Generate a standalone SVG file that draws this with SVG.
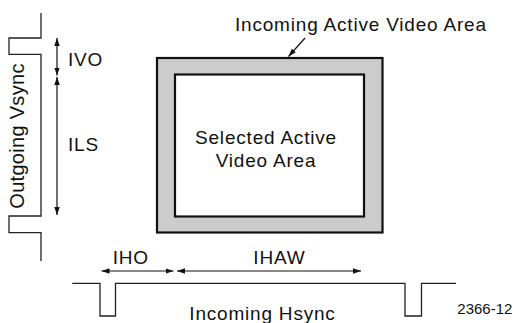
<svg xmlns="http://www.w3.org/2000/svg" width="521" height="323" viewBox="0 0 521 323">
<defs>
<style>
.t{font-family:"Liberation Sans",Arial,Helvetica,sans-serif;font-size:19px;fill:#111;letter-spacing:0.8px}
.w{fill:none;stroke:#222;stroke-width:1.3}
.c{fill:none;stroke:#111;stroke-width:1.2}
</style>
<marker id="ah" markerUnits="userSpaceOnUse" markerWidth="9" markerHeight="6" refX="8" refY="2.75" orient="auto-start-reverse">
<path d="M0,0 L8,2.75 L0,5.5 z" fill="#111"/>
</marker>
</defs>
<rect width="521" height="323" fill="#fff"/>
<g id="incoming-area">
<rect x="157" y="58" width="225.5" height="174.5" fill="#cccccc" stroke="#111" stroke-width="2.2"/>
</g>
<g id="selected-area">
<rect x="175" y="74.5" width="189" height="142" fill="#fff" stroke="#111" stroke-width="2.2"/>
<text class="t" x="266" y="144" text-anchor="middle">Selected Active</text>
<text class="t" x="266" y="167" text-anchor="middle">Video Area</text>
</g>
<g id="incoming-label">
<text class="t" x="235" y="31">Incoming Active Video Area</text>
</g>
<g id="vsync">
<path class="w" d="M41,13 V38 H9 V54.3 H41 V216 H9 V232.7 H41 V261"/>
<text class="t" transform="translate(24.3,136) rotate(-90)" text-anchor="middle" style="font-size:20px;letter-spacing:0.3px">Outgoing Vsync</text>
</g>
<g id="hsync">
<path class="w" d="M72.3,283.3 H100 V316 H115.5 V283.3 H405 V316 H421.5 V283.3 H456"/>
<text class="t" x="189.3" y="320">Incoming Hsync</text>
</g>
<g id="ivo-label"><text class="t" x="68" y="66">IVO</text></g>
<g id="ils-label"><text class="t" x="68" y="150.5">ILS</text></g>
<g id="iho-label"><text class="t" x="112.7" y="264">IHO</text></g>
<g id="ihaw-label"><text class="t" x="253.3" y="264">IHAW</text></g>
<g id="fig-number"><text class="t" x="457.3" y="313.5" style="font-size:15px;letter-spacing:0">2366-12</text></g>
<g id="connectors">
<line class="c" x1="57" y1="38" x2="57" y2="75.5" marker-start="url(#ah)" marker-end="url(#ah)"/>
<line class="c" x1="57" y1="77" x2="57" y2="215" marker-start="url(#ah)" marker-end="url(#ah)"/>
<line class="c" x1="101.5" y1="271" x2="173.5" y2="271" marker-start="url(#ah)" marker-end="url(#ah)"/>
<line class="c" x1="177" y1="271" x2="361" y2="271" marker-start="url(#ah)" marker-end="url(#ah)"/>
<line class="c" x1="305" y1="38" x2="288.5" y2="56.5" marker-end="url(#ah)"/>
</g>
</svg>
